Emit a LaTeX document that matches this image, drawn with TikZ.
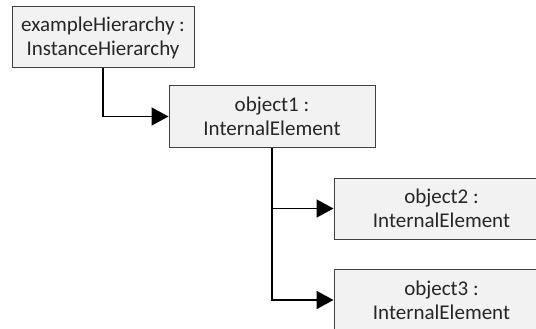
\documentclass[tikz,border=0pt]{standalone}
\usepackage{fontspec}
\setmainfont{Carlito}
\usetikzlibrary{arrows.meta}
\definecolor{boxfill}{HTML}{F2F2F2}
\definecolor{boxline}{HTML}{404040}
\definecolor{ink}{HTML}{262626}
\begin{document}
\begin{tikzpicture}[x=1pt,y=-1pt,
  objbox/.style={draw=boxline, line width=1pt, fill=boxfill, text=ink,
    align=center, inner sep=0pt, font=\fontsize{21}{24}\selectfont},
  link/.style={draw=black, line width=1.7pt,
    -{Triangle[length=17pt,width=18pt]}}]
  \useasboundingbox (0,0) rectangle (536,329);
  \clip (0,0) rectangle (536,329);
  \node[objbox, minimum width=182pt, minimum height=61pt] (root) at (103,37.5)
    {exampleHierarchy :\\InstanceHierarchy};
  \node[objbox, minimum width=206pt, minimum height=61pt] (obj1) at (272,116.5)
    {object1 :\\InternalElement};
  \node[objbox, minimum width=215pt, minimum height=61pt] (obj2) at (441.5,208.5)
    {object2 :\\InternalElement};
  \node[objbox, minimum width=215pt, minimum height=61pt] (obj3) at (441.5,300)
    {object3 :\\InternalElement};
  \draw[link] (root.south) |- (obj1.west);
  \draw[link] (obj1.south) |- (obj2.west);
  \draw[link] (obj1.south) |- (obj3.west);
\end{tikzpicture}
\end{document}
